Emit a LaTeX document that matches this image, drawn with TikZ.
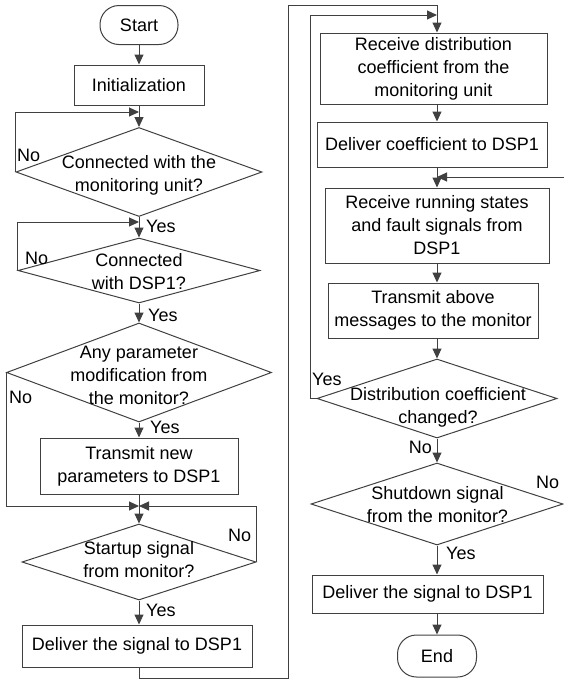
\documentclass[tikz,border=0pt]{standalone}
\usepackage{fontspec}
\setmainfont{Liberation Sans}
\usetikzlibrary{arrows.meta,shapes.geometric}
\definecolor{ln}{HTML}{404040}
\begin{document}
\begin{tikzpicture}[x=1pt,y=-1pt,
  every node/.style={font=\fontsize{18}{23}\selectfont, text=black},
  box/.style={draw=ln, line width=1pt, rectangle, align=center, inner sep=0pt},
  term/.style={box, rounded corners=19pt},
  dec/.style={draw=ln, line width=1pt, diamond, inner sep=0pt},
  dtext/.style={align=center, inner sep=0pt},
  lbl/.style={inner sep=0pt, anchor=west},
  conn/.style={draw=ln, line width=1pt, -{Triangle[length=10pt,width=9pt]}}]
\useasboundingbox (0,0) rectangle (564,681);
% left column
\node[term, minimum width=78pt, minimum height=39pt] (start) at (139,25) {Start};
\node[box, minimum width=130pt, minimum height=40pt] (init) at (139,85) {Initialization};
\node[dec, minimum width=246pt, minimum height=89pt] (d1) at (139,172) {};
\node[dtext] (d1t) at (139,175) {Connected with the\\monitoring unit?};
\node[dec, minimum width=242pt, minimum height=65pt] (d2) at (139,270.5) {};
\node[dtext] (d2t) at (139,272) {Connected\\with DSP1?};
\node[dec, minimum width=265pt, minimum height=99pt] (d3) at (139,372.5) {};
\node[dtext] (d3t) at (139,375) {Any parameter\\modification from\\the monitor?};
\node[box, minimum width=198pt, minimum height=56pt] (t1) at (139,466) {Transmit new\\parameters to DSP1};
\node[dec, minimum width=234pt, minimum height=76pt] (d4) at (139,562) {};
\node[dtext] (d4t) at (139,560) {Startup signal\\from monitor?};
\node[box, minimum width=230pt, minimum height=42pt] (dl1) at (137,646) {Deliver the signal to DSP1};
% right column
\coordinate (rc) at (437,0);
\node[box, minimum width=227pt, minimum height=71pt] (r1) at (433.5,68.5) {Receive distribution\\coefficient from the\\monitoring unit};
\node[box, minimum width=230pt, minimum height=45pt] (c1) at (432,144.5) {Deliver coefficient to DSP1};
\node[box, minimum width=224pt, minimum height=75pt] (r2) at (437,225.5) {Receive running states\\and fault signals from\\DSP1};
\node[box, minimum width=210pt, minimum height=55pt] (t2) at (433,310.5) {Transmit above\\messages to the monitor};
\node[dec, minimum width=240pt, minimum height=79pt] (d5) at (437,398.5) {};
\node[dtext] (d5t) at (438,407) {Distribution coefficient\\changed?};
\node[dec, minimum width=252pt, minimum height=82pt] (d6) at (437,504) {};
\node[dtext] (d6t) at (437.5,505) {Shutdown signal\\from the monitor?};
\node[box, minimum width=231pt, minimum height=38pt] (dl2) at (427.5,594) {Deliver the signal to DSP1};
\node[term, minimum width=79pt, minimum height=42pt] (end) at (437,656) {End};
% coordinates
\coordinate (m1) at (139,112);
\coordinate (m2) at (139,222);
\coordinate (m3) at (139,506);
\coordinate (m4) at (437,177);
\coordinate (b1) at (288,678);
\coordinate (b2) at (288,5);
\coordinate (b3) at (310,15);
% left connectors
\draw[conn] (start) -- (init);
\draw[conn] (init) -- (d1);
\draw[conn] (d1.west) |- (m1);
\draw[conn] (d1) -- (d2);
\draw[conn] (d2.west) |- (m2);
\draw[conn] (d2) -- (d3);
\draw[conn] (d3) -- (t1);
\draw[conn] (d3.west) |- (m3);
\draw[conn] (d4.east) |- (m3);
\draw[conn] (t1) -- (d4);
\draw[conn] (d4.south) -- (d4.south |- dl1.north);
\draw[conn] (m1 |- dl1.south) |- (b1) -- (b2) -| (rc |- r1.north);
% right connectors
\draw[conn] (d5.west) -| (b3) -- (b3 -| rc);
\draw[conn] (rc |- r1.south) -- (rc |- c1.north);
\draw[conn] (rc |- c1.south) -- (rc |- r2.north);
\draw[conn] (d6.east) -- ++(6,0) |- (m4);
\draw[conn] (r2.south) -- (rc |- t2.north);
\draw[conn] (rc |- t2.south) -- (d5.north);
\draw[conn] (d5.south) -- (d6.north);
\draw[conn] (d6.south) -- (d6.south |- dl2.north);
\draw[conn] (rc |- dl2.south) -- (end.north);
% labels
\node[lbl] (n1) at (17,155) {No};
\node[lbl] (y1) at (146,226) {Yes};
\node[lbl] (n2) at (25,258) {No};
\node[lbl] (y2) at (148,315) {Yes};
\node[lbl] (n3) at (9,397) {No};
\node[lbl] (y3) at (150,427) {Yes};
\node[lbl] (n4) at (228,535) {No};
\node[lbl] (y4) at (146,610) {Yes};
\node[lbl] (y5) at (312,379) {Yes};
\node[lbl, anchor=east] (n5) at (432,447) {No};
\node[lbl] (n6) at (536,482) {No};
\node[lbl] (y6) at (446,553) {Yes};
\end{tikzpicture}
\end{document}
